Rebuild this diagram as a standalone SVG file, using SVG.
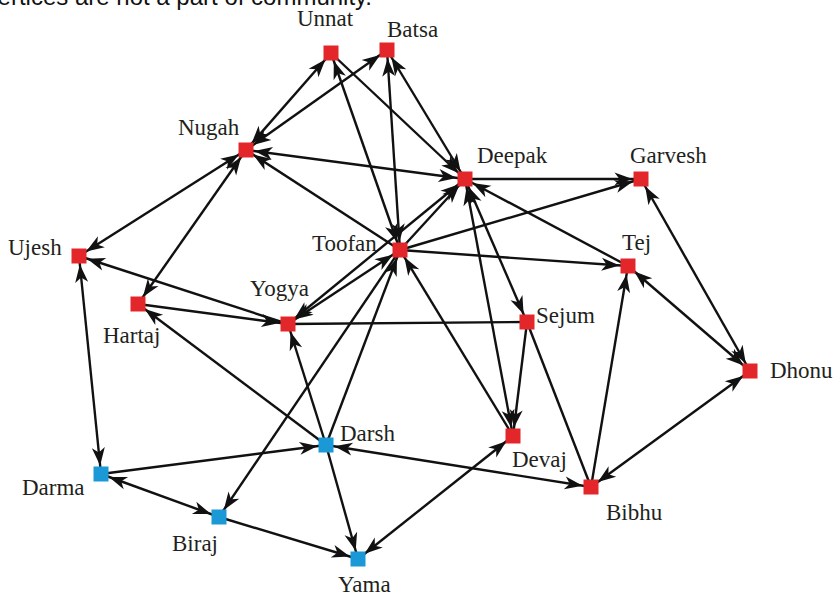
<svg xmlns="http://www.w3.org/2000/svg" width="837" height="596" viewBox="0 0 837 596">
<defs>
<marker id="ah" markerUnits="userSpaceOnUse" markerWidth="27" markerHeight="13" viewBox="0 0 27 13" refX="26.5" refY="6.5" orient="auto-start-reverse" style="overflow:visible">
<path d="M0,0 L18,6.5 L0,13 L5,6.5 z" fill="#111"/>
</marker>
</defs>
<style>
.e{stroke:#111;stroke-width:2.4;fill:none}
.f{marker-end:url(#ah)}
.b{marker-start:url(#ah);marker-end:url(#ah)}
.r{fill:#e3262a}
.c{fill:#1b98d6}
.l{font-family:"Liberation Serif","Times New Roman",serif;font-size:23px;fill:#231f20}
.t{font-family:"Liberation Sans",Arial,sans-serif;font-size:24px;fill:#111}
</style>
<rect width="837" height="596" fill="#fff"/>
<text class="t" x="372" y="5" text-anchor="end">vertices are not a part of community.</text>
<g id="connectors">
<line class="e b" x1="246" y1="150" x2="331" y2="53"/>
<line class="e b" x1="246" y1="150" x2="387" y2="50"/>
<line class="e f" x1="331" y1="53" x2="465" y2="179"/>
<line class="e b" x1="400" y1="250" x2="331" y2="53"/>
<line class="e b" x1="400" y1="250" x2="387" y2="50"/>
<line class="e b" x1="465" y1="179" x2="387" y2="50"/>
<line class="e b" x1="465" y1="179" x2="246" y2="150"/>
<line class="e f" x1="400" y1="250" x2="246" y2="150"/>
<line class="e f" x1="465" y1="179" x2="641" y2="179"/>
<line class="e f" x1="400" y1="250" x2="641" y2="179"/>
<line class="e f" x1="400" y1="250" x2="628" y2="266"/>
<line class="e f" x1="628" y1="266" x2="465" y2="179"/>
<line class="e f" x1="400" y1="250" x2="465" y2="179"/>
<line class="e b" x1="288" y1="324" x2="465" y2="179"/>
<line class="e b" x1="288" y1="324" x2="400" y2="250"/>
<line class="e b" x1="465" y1="179" x2="527" y2="322"/>
<line class="e b" x1="465" y1="179" x2="513" y2="436"/>
<line class="e f" x1="527" y1="322" x2="513" y2="436"/>
<line class="e" x1="288" y1="324" x2="527" y2="322"/>
<line class="e" x1="527" y1="322" x2="591" y2="487"/>
<line class="e f" x1="591" y1="487" x2="628" y2="266"/>
<line class="e b" x1="591" y1="487" x2="750" y2="371"/>
<line class="e b" x1="750" y1="371" x2="641" y2="179"/>
<line class="e b" x1="750" y1="371" x2="628" y2="266"/>
<line class="e b" x1="326" y1="445" x2="591" y2="487"/>
<line class="e f" x1="513" y1="436" x2="400" y2="250"/>
<line class="e b" x1="358" y1="559" x2="513" y2="436"/>
<line class="e f" x1="326" y1="445" x2="358" y2="559"/>
<line class="e f" x1="326" y1="445" x2="288" y2="324"/>
<line class="e f" x1="326" y1="445" x2="400" y2="250"/>
<line class="e f" x1="326" y1="445" x2="138" y2="304"/>
<line class="e f" x1="101" y1="474" x2="326" y2="445"/>
<line class="e b" x1="101" y1="474" x2="219" y2="517"/>
<line class="e f" x1="219" y1="517" x2="358" y2="559"/>
<line class="e f" x1="400" y1="250" x2="219" y2="517"/>
<line class="e b" x1="79" y1="256" x2="101" y2="474"/>
<line class="e b" x1="246" y1="150" x2="79" y2="256"/>
<line class="e f" x1="288" y1="324" x2="79" y2="256"/>
<line class="e f" x1="138" y1="304" x2="288" y2="324"/>
<line class="e b" x1="246" y1="150" x2="138" y2="304"/>
</g>
<g id="node-unnat"><rect class="r" x="323.5" y="45.5" width="15" height="15"/><text class="l" x="297" y="26">Unnat</text></g>
<g id="node-batsa"><rect class="r" x="379.5" y="42.5" width="15" height="15"/><text class="l" x="387" y="37">Batsa</text></g>
<g id="node-nugah"><rect class="r" x="238.5" y="142.5" width="15" height="15"/><text class="l" x="178" y="135">Nugah</text></g>
<g id="node-deepak"><rect class="r" x="457.5" y="171.5" width="15" height="15"/><text class="l" x="477" y="163">Deepak</text></g>
<g id="node-garvesh"><rect class="r" x="633.5" y="171.5" width="15" height="15"/><text class="l" x="630" y="163">Garvesh</text></g>
<g id="node-toofan"><rect class="r" x="392.5" y="242.5" width="15" height="15"/><text class="l" x="312" y="251">Toofan</text></g>
<g id="node-tej"><rect class="r" x="620.5" y="258.5" width="15" height="15"/><text class="l" x="622" y="250">Tej</text></g>
<g id="node-ujesh"><rect class="r" x="71.5" y="248.5" width="15" height="15"/><text class="l" x="8" y="255">Ujesh</text></g>
<g id="node-hartaj"><rect class="r" x="130.5" y="296.5" width="15" height="15"/><text class="l" x="103" y="343">Hartaj</text></g>
<g id="node-yogya"><rect class="r" x="280.5" y="316.5" width="15" height="15"/><text class="l" x="250" y="296">Yogya</text></g>
<g id="node-sejum"><rect class="r" x="519.5" y="314.5" width="15" height="15"/><text class="l" x="536" y="323">Sejum</text></g>
<g id="node-dhonu"><rect class="r" x="742.5" y="363.5" width="15" height="15"/><text class="l" x="770" y="378">Dhonu</text></g>
<g id="node-darsh"><rect class="c" x="318.5" y="437.5" width="15" height="15"/><text class="l" x="340" y="441">Darsh</text></g>
<g id="node-devaj"><rect class="r" x="505.5" y="428.5" width="15" height="15"/><text class="l" x="512" y="467">Devaj</text></g>
<g id="node-darma"><rect class="c" x="93.5" y="466.5" width="15" height="15"/><text class="l" x="22" y="495">Darma</text></g>
<g id="node-bibhu"><rect class="r" x="583.5" y="479.5" width="15" height="15"/><text class="l" x="606" y="520">Bibhu</text></g>
<g id="node-biraj"><rect class="c" x="211.5" y="509.5" width="15" height="15"/><text class="l" x="172" y="551">Biraj</text></g>
<g id="node-yama"><rect class="c" x="350.5" y="551.5" width="15" height="15"/><text class="l" x="338" y="592">Yama</text></g>
</svg>
